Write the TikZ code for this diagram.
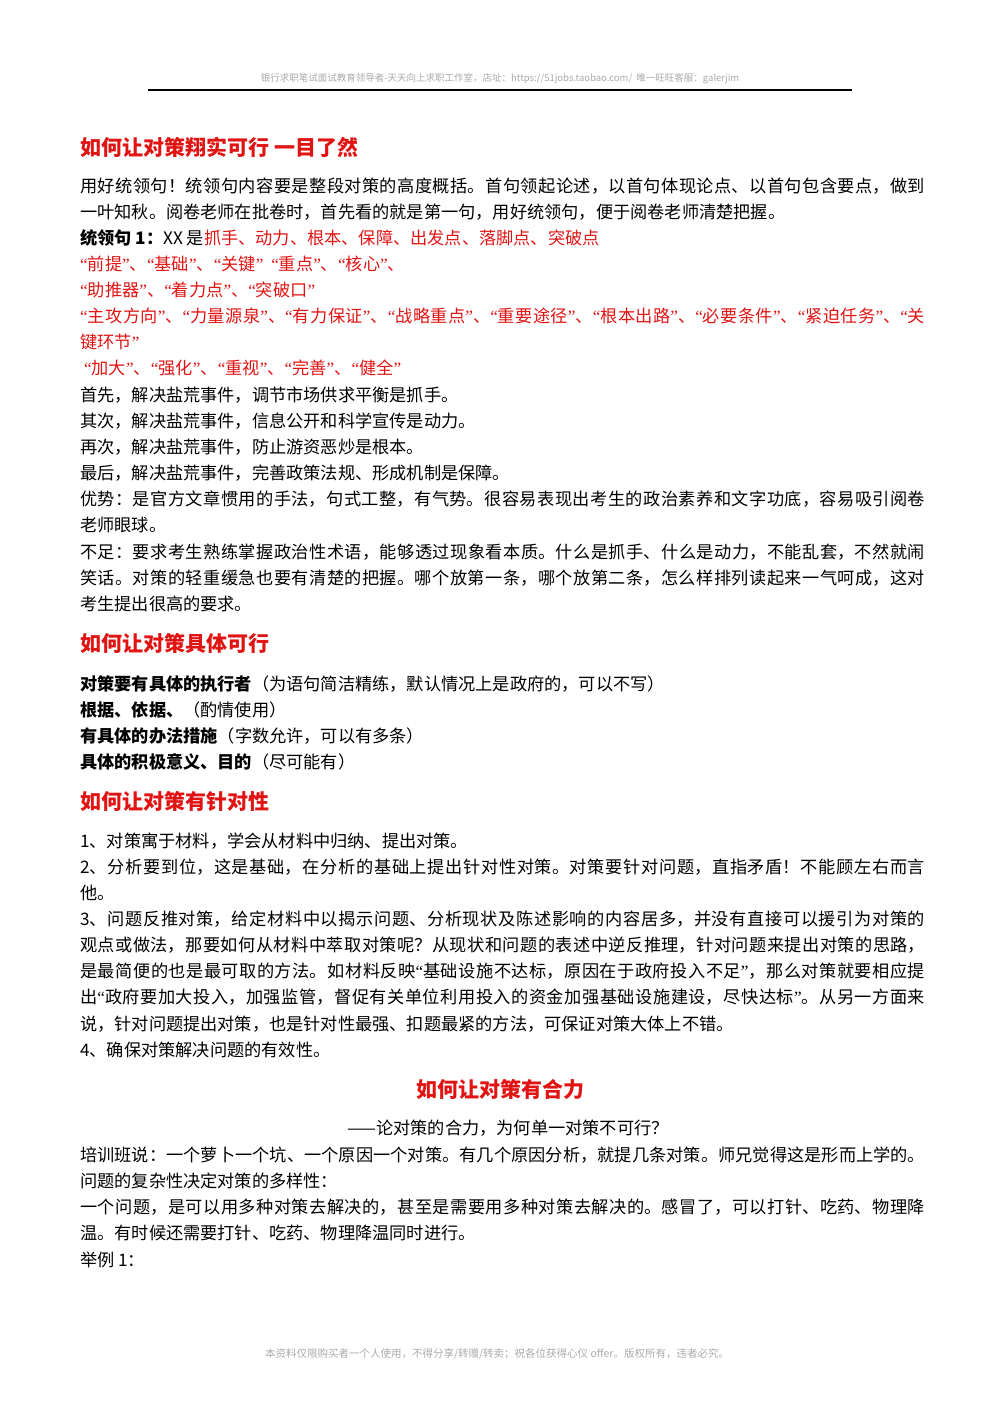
\documentclass[tikz,border=0pt]{standalone}
\usepackage{fontspec}
\setmainfont{Noto Sans CJK SC}
\newfontfamily\lat{Liberation Serif}
\XeTeXlinebreaklocale "zh"
\XeTeXlinebreakskip=0pt plus 3pt
\definecolor{hred}{RGB}{225,20,20}
\definecolor{hgray}{RGB}{170,170,170}
\newcommand{\rd}[1]{\textcolor{hred}{#1}}
\newcommand{\ql}{{\lat “}}
\newcommand{\qr}{{\lat ”}}
\tikzset{ln/.style={anchor=base west,inner sep=0pt,font=\fontsize{17.2}{20}\selectfont},
 jl/.style={ln,text width=845pt,align=justify},
 hd/.style={anchor=base west,inner sep=0pt,text=hred,font=\fontsize{21}{24}\selectfont\bfseries},
 sm/.style={inner sep=0pt,text=hgray,font=\fontsize{9.5}{12}\selectfont}}
\newcommand{\J}[3]{\node[jl] (#1) at (80pt,-#2pt-6pt) {\parfillskip=0pt #3\par};}
\newcommand{\N}[3]{\node[ln] (#1) at (80pt,-#2pt-6pt) {#3};}
\begin{document}
\begin{tikzpicture}
\useasboundingbox (0,0) rectangle (1000pt,-1414pt);
\node[sm] (hdr) at (500pt,-79pt) {银行求职笔试面试教育领导者-天天向上求职工作室，店址：https://51jobs.taobao.com/\ \ 唯一旺旺客服：galerjim};
\draw[line width=1.6pt] (148pt,-90pt) coordinate (r1) -- (852pt,-90pt) coordinate (r2);
\node[hd] (h1) at (80pt,-155pt) {如何让对策翔实可行\ 一目了然};
\J{a1}{186}{用好统领句！统领句内容要是整段对策的高度概括。首句领起论述，以首句体现论点、以首句包含要点，做到}
\N{a2}{212}{一叶知秋。阅卷老师在批卷时，首先看的就是第一句，用好统领句，便于阅卷老师清楚把握。}
\N{a3}{238}{\textbf{统领句 1：}XX 是\rd{抓手、动力、根本、保障、出发点、落脚点、突破点}}
\N{a4}{264}{\rd{\ql 前提\qr、\ql 基础\qr、\ql 关键\qr\ \ \ql 重点\qr、\ql 核心\qr、}}
\N{a5}{290}{\rd{\ql 助推器\qr、\ql 着力点\qr、\ql 突破口\qr}}
\J{a6}{316}{\color{hred}\ql 主攻方向\qr、\ql 力量源泉\qr、\ql 有力保证\qr、\ql 战略重点\qr、\ql 重要途径\qr、\ql 根本出路\qr、\ql 必要条件\qr、\ql 紧迫任务\qr、\ql 关}
\N{a7}{342}{\rd{键环节\qr}}
\N{a8}{368}{\rd{\ \ql 加大\qr、\ql 强化\qr、\ql 重视\qr、\ql 完善\qr、\ql 健全\qr}}
\N{a9}{395}{首先，解决盐荒事件，调节市场供求平衡是抓手。}
\N{a10}{421}{其次，解决盐荒事件，信息公开和科学宣传是动力。}
\N{a11}{447}{再次，解决盐荒事件，防止游资恶炒是根本。}
\N{a12}{473}{最后，解决盐荒事件，完善政策法规、形成机制是保障。}
\J{a13}{499}{优势：是官方文章惯用的手法，句式工整，有气势。很容易表现出考生的政治素养和文字功底，容易吸引阅卷}
\N{a14}{525}{老师眼球。}
\J{a15}{552}{不足：要求考生熟练掌握政治性术语，能够透过现象看本质。什么是抓手、什么是动力，不能乱套，不然就闹}
\J{a16}{578}{笑话。对策的轻重缓急也要有清楚的把握。哪个放第一条，哪个放第二条，怎么样排列读起来一气呵成，这对}
\N{a17}{604}{考生提出很高的要求。}
\node[hd] (h2) at (80pt,-651pt) {如何让对策具体可行};
\N{b1}{684}{\textbf{对策要有具体的执行者}（为语句简洁精练，默认情况上是政府的，可以不写）}
\N{b2}{710}{\textbf{根据、依据、}（酌情使用）}
\N{b3}{736}{\textbf{有具体的办法措施}（字数允许，可以有多条）}
\N{b4}{762}{\textbf{具体的积极意义、目的}（尽可能有）}
\node[hd] (h3) at (80pt,-809pt) {如何让对策有针对性};
\N{c1}{841}{1、对策寓于材料，学会从材料中归纳、提出对策。}
\J{c2}{867}{2、分析要到位，这是基础，在分析的基础上提出针对性对策。对策要针对问题，直指矛盾！不能顾左右而言}
\N{c3}{893}{他。}
\J{c4}{919}{3、问题反推对策，给定材料中以揭示问题、分析现状及陈述影响的内容居多，并没有直接可以援引为对策的}
\J{c5}{945}{观点或做法，那要如何从材料中萃取对策呢？从现状和问题的表述中逆反推理，针对问题来提出对策的思路，}
\J{c6}{971}{是最简便的也是最可取的方法。如材料反映\ql 基础设施不达标，原因在于政府投入不足\qr，那么对策就要相应提}
\J{c7}{997}{出\ql 政府要加大投入，加强监管，督促有关单位利用投入的资金加强基础设施建设，尽快达标\qr。从另一方面来}
\N{c8}{1024}{说，针对问题提出对策，也是针对性最强、扣题最紧的方法，可保证对策大体上不错。}
\N{c9}{1050}{4、确保对策解决问题的有效性。}
\node[hd,anchor=base] (h4) at (500pt,-1097pt) {如何让对策有合力};
\node[ln,anchor=base] (sub) at (508pt,-1134pt) {——论对策的合力，为何单一对策不可行？};
\J{d1}{1155}{培训班说：一个萝卜一个坑、一个原因一个对策。有几个原因分析，就提几条对策。师兄觉得这是形而上学的。}
\N{d2}{1181}{问题的复杂性决定对策的多样性：}
\J{d3}{1207}{一个问题，是可以用多种对策去解决的，甚至是需要用多种对策去解决的。感冒了，可以打针、吃药、物理降}
\N{d4}{1233}{温。有时候还需要打针、吃药、物理降温同时进行。}
\N{d5}{1260}{举例 1：}
\node[sm,font=\fontsize{10.5}{12}\selectfont] (ftr) at (497pt,-1354pt) {本资料仅限购买者一个人使用，不得分享/转赠/转卖；祝各位获得心仪 offer。版权所有，违者必究。};
\end{tikzpicture}
\end{document}
